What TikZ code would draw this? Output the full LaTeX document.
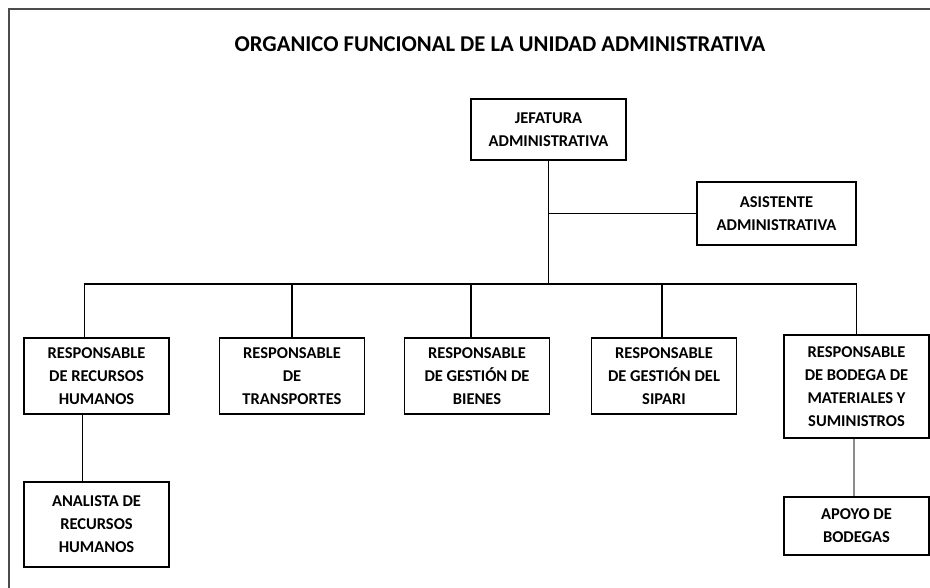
\documentclass[tikz,border=0pt]{standalone}
\usepackage{fontspec}
\setmainfont{Carlito}
\usepackage{tikz}
\usetikzlibrary{calc}
\tikzstyle{cargo} = [rectangle, draw=black, line width=1.3pt, minimum width=145pt, align=center, inner sep=0pt, font=\bfseries\fontsize{16.5}{23}\selectfont]
\tikzstyle{enlace} = [draw=black, line width=1.1pt]

\begin{document}
\begin{tikzpicture}[x=1pt, y=-1pt]

        \useasboundingbox (0,0) rectangle (930,587);
        \draw [draw=black!70, line width=1.4pt] (9,600) -- (9,9) -- (945,9);

        \node (titulo) at (500,44.5) {\bfseries\fontsize{22.6}{26}\selectfont ORGANICO FUNCIONAL DE LA UNIDAD ADMINISTRATIVA};

        \node (jefe) [cargo, minimum width=155pt, minimum height=61pt] at (548.5,129.5) {JEFATURA\\ADMINISTRATIVA};
        \node (asis) [cargo, minimum width=159pt, minimum height=63pt] at (776.5,213.5) {ASISTENTE\\ADMINISTRATIVA};

        \node (rrhh)  [cargo, minimum height=76pt] at (96.5,376) {RESPONSABLE\\DE RECURSOS\\HUMANOS};
        \node (trans) [cargo, minimum height=76pt] at (292,376) {RESPONSABLE\\DE\\TRANSPORTES};
        \node (bien)  [cargo, minimum height=76pt] at (477,376) {RESPONSABLE\\DE GESTIÓN DE\\BIENES};
        \node (sipa)  [cargo, minimum height=76pt] at (664,376) {RESPONSABLE\\DE GESTIÓN DEL\\SIPARI};
        \node (bode)  [cargo, minimum height=103pt] at (856.5,386.5) {RESPONSABLE\\DE BODEGA DE\\MATERIALES Y\\SUMINISTROS};

        \node (anal)  [cargo, minimum height=85pt] at (96.5,524.5) {ANALISTA DE\\RECURSOS\\HUMANOS};
        \node (apoyo) [cargo, minimum height=58pt] at (856.5,526) {APOYO DE\\BODEGAS};

        \coordinate (bus) at (548.5,284);

        \draw [enlace] (jefe.south) -- (bus);
        \draw [enlace] (jefe.south |- asis.west) -- (asis.west);

        \draw [enlace] ($(rrhh.north) + (-12,0)$) |- (bus) -| (bode.north);
        \draw [enlace] (trans.north) -- (trans.north |- bus);
        \draw [enlace] ($(bien.north) + (-6,0)$) -- ($(bien.north |- bus) + (-6,0)$);
        \draw [enlace] ($(sipa.north) + (-2,0)$) -- ($(sipa.north |- bus) + (-2,0)$);

        \draw [enlace] ($(rrhh.south) + (-14,0)$) -- ($(anal.north) + (-14,0)$);
        \draw [draw=black!45, line width=2pt] ($(bode.south) + (-3,0)$) -- ($(apoyo.north) + (-3,0)$);

    \end{tikzpicture}
\end{document}
